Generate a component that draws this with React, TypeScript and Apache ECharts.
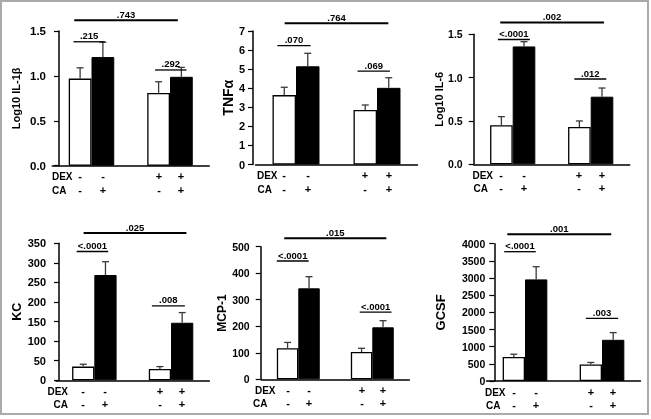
import React, { useEffect, useRef } from 'react';
import * as echarts from 'echarts';

const FONT = 'Arial, "Liberation Sans", Helvetica, sans-serif';

// ---- data ----
const groups = ['DEX -', 'DEX +'];
const dexSigns = ['-', '-', '+', '+'];
const caSigns = ['-', '+', '-', '+'];
const rowTitles = ['DEX', 'CA'];

const axisTitles = ['Log10 IL-1β', 'TNFα', 'Log10 IL-6', 'KC', 'MCP-1', 'GCSF'];

const il1bVehicle = [0.97, 0.81];
const il1bCA = [1.21, 0.99];
const il1bVehicleSem = [0.12, 0.125];
const il1bCASem = [0.165, 0.105];
const il1bP = ['.743', '.215', '.292'];
const il1bPY = [1.62, 1.38, 1.066];
const il1bPSpan = [[0, -0.22, 1, 0.10], [0, -0.23, 0, 0.17], [1, -0.19, 1, 0.21]];

const tnfVehicle = [3.64, 2.86];
const tnfCA = [5.15, 4.02];
const tnfVehicleSem = [0.41, 0.26];
const tnfCASem = [0.68, 0.53];
const tnfP = ['.764', '.070', '.069'];
const tnfPY = [7.4, 6.23, 4.9];
const tnfPSpan = [[0, -0.14, 1, 0.14], [0, -0.23, 0, 0.18], [1, -0.24, 1, 0.16]];

const il6Vehicle = [0.45, 0.43];
const il6CA = [1.36, 0.78];
const il6VehicleSem = [0.1, 0.07];
const il6CASem = [0.055, 0.1];
const il6P = ['.002', '<.0001', '.012'];
const il6PY = [1.635, 1.44, 0.984];
const il6PSpan = [[0, -0.16, 1, 0.17], [0, -0.19, 0, 0.22], [1, -0.21, 1, 0.2]];

const kcVehicle = [35, 29];
const kcCA = [269, 147];
const kcVehicleSem = [6, 6];
const kcCASem = [34, 26];
const kcP = ['.025', '<.0001', '.008'];
const kcPY = [376, 329, 190];
const kcPSpan = [[0, -0.14, 1, 0.2], [0, -0.23, 0, 0.18], [1, -0.25, 1, 0.18]];

const mcpVehicle = [117, 103];
const mcpCA = [343, 196];
const mcpVehicleSem = [22, 14];
const mcpCASem = [44, 25];
const mcpP = ['.015', '<.0001', '<.0001'];
const mcpPY = [532, 446, 253];
const mcpPSpan = [[0, -0.19, 1, 0.19], [0, -0.29, 0, 0.14], [1, -0.17, 1, 0.26]];

const gcsfVehicle = [700, 480];
const gcsfCA = [2960, 1200];
const gcsfVehicleSem = [80, 60];
const gcsfCASem = [370, 210];
const gcsfP = ['.001', '<.0001', '.003'];
const gcsfPY = [4273, 3767, 1826];
const gcsfPSpan = [[0, -0.23, 1, 0.12], [0, -0.27, 0, 0.14], [1, -0.21, 1, 0.21]];

const yMax = [1.5, 7, 1.5, 350, 500, 4000];
const yInterval = [0.5, 1, 0.5, 50, 100, 500];
const yDecimals = [1, 0, 1, 0, 0, 0];

const panels = [
  { v: il1bVehicle, c: il1bCA, vs: il1bVehicleSem, cs: il1bCASem, p: il1bP, py: il1bPY, ps: il1bPSpan },
  { v: tnfVehicle, c: tnfCA, vs: tnfVehicleSem, cs: tnfCASem, p: tnfP, py: tnfPY, ps: tnfPSpan },
  { v: il6Vehicle, c: il6CA, vs: il6VehicleSem, cs: il6CASem, p: il6P, py: il6PY, ps: il6PSpan },
  { v: kcVehicle, c: kcCA, vs: kcVehicleSem, cs: kcCASem, p: kcP, py: kcPY, ps: kcPSpan },
  { v: mcpVehicle, c: mcpCA, vs: mcpVehicleSem, cs: mcpCASem, p: mcpP, py: mcpPY, ps: mcpPSpan },
  { v: gcsfVehicle, c: gcsfCA, vs: gcsfVehicleSem, cs: gcsfCASem, p: gcsfP, py: gcsfPY, ps: gcsfPSpan },
];

// ---- layout ----
const layouts = [
  { left: 52.25, top: 31, width: 157, height: 134.7, yOffset: -6.75, labelMargin: 13, tickFont: 11.5, nameFont: 11, nameGap: 38, dexGap: 7.5, caGap: 13.5 },
  { left: 255.5, top: 31, width: 162, height: 133.5, yOffset: 2.5, labelMargin: 8, tickFont: 11, nameFont: 14, nameGap: 18, dexGap: 6.5, caGap: 12 },
  { left: 473.7, top: 34.3, width: 156, height: 130, yOffset: 0, labelMargin: 11, tickFont: 10.5, nameFont: 11, nameGap: 29, dexGap: 8, caGap: 13 },
  { left: 56, top: 243.3, width: 153.4, height: 137, yOffset: -3, labelMargin: 13, tickFont: 11, nameFont: 12.5, nameGap: 21, dexGap: 15, caGap: 15 },
  { left: 261.3, top: 246.7, width: 148, height: 132.6, yOffset: 0.6, labelMargin: 11, tickFont: 10.5, nameFont: 12, nameGap: 31, dexGap: 12.5, caGap: 20.5 },
  { left: 486.5, top: 243.7, width: 154, height: 137.3, yOffset: -7.8, labelMargin: 9, tickFont: 10.5, nameFont: 13, nameGap: 47, dexGap: 8.5, caGap: 13.5 },
];

const BAR_FRAC = 0.29;
const CAP = 3.5;

function buildOption() {
  const series: any[] = [];
  panels.forEach((p, i) => {
    const lay = layouts[i];
    series.push({
      type: 'bar', xAxisIndex: i, yAxisIndex: i, data: p.v,
      barWidth: BAR_FRAC * 100 + '%', barGap: '0%',
      itemStyle: { color: '#fff', borderColor: '#000', borderWidth: 1.3 },
    });
    series.push({
      type: 'bar', xAxisIndex: i, yAxisIndex: i, data: p.c,
      barWidth: BAR_FRAC * 100 + '%', barGap: '0%',
      itemStyle: { color: '#000', borderColor: '#000', borderWidth: 1 },
    });
    // error bars
    const errData: number[][] = [];
    p.v.forEach((val, k) => errData.push([k, val, p.vs[k], -1]));
    p.c.forEach((val, k) => errData.push([k, val, p.cs[k], 1]));
    series.push({
      type: 'custom', xAxisIndex: i, yAxisIndex: i, clip: false, z: 3,
      itemStyle: { color: '#000' },
      encode: { x: 0, y: 1 },
      data: errData,
      renderItem: (params: any, api: any) => {
        const cat = api.value(0), val = api.value(1), e = api.value(2), side = api.value(3);
        const band = api.size([1, 0])[0];
        const b = api.coord([cat, val]);
        const t = api.coord([cat, val + e]);
        const x = b[0] + side * band * BAR_FRAC / 2;
        const st = { stroke: '#3a3a3a', lineWidth: 1.3 };
        return {
          type: 'group', children: [
            { type: 'line', shape: { x1: x, y1: b[1], x2: x, y2: t[1] }, style: st },
            { type: 'line', shape: { x1: x - CAP, y1: t[1], x2: x + CAP, y2: t[1] }, style: st },
          ],
        };
      },
    });
    // significance brackets
    const brData = p.ps.map((s, k) => [s[0], s[1], s[2], s[3], p.py[k]]);
    series.push({
      type: 'custom', xAxisIndex: i, yAxisIndex: i, clip: false, z: 4,
      itemStyle: { color: '#000' },
      encode: { x: 0, y: 4 },
      data: brData,
      renderItem: (params: any, api: any) => {
        const k = params.dataIndex;
        const band = api.size([1, 0])[0];
        const yv = api.value(4);
        const a = api.coord([api.value(0), yv]);
        const b = api.coord([api.value(2), yv]);
        const x1 = a[0] + api.value(1) * band;
        const x2 = b[0] + api.value(3) * band;
        return {
          type: 'group', children: [
            { type: 'line', shape: { x1, y1: a[1], x2, y2: a[1] }, style: { stroke: '#000', lineWidth: k === 0 ? 2 : 1.3 } },
            {
              type: 'text', x: (x1 + x2) / 2, y: a[1] - 1,
              style: { text: p.p[k], fill: '#000', fontSize: 9.5, fontWeight: 'bold', fontFamily: FONT, align: 'center', verticalAlign: 'bottom' },
            },
          ],
        };
      },
    });
    // DEX / CA sign rows
    const signData = [[0, -1, 0], [0, 1, 0], [1, -1, 0], [1, 1, 0]];
    series.push({
      type: 'custom', xAxisIndex: i, yAxisIndex: i, clip: false, z: 4,
      itemStyle: { color: '#000' },
      encode: { x: 0, y: 2 },
      data: signData,
      renderItem: (params: any, api: any) => {
        const k = params.dataIndex;
        const band = api.size([1, 0])[0];
        const o = api.coord([api.value(0), 0]);
        const x = Math.round(o[0] + api.value(1) * band * BAR_FRAC / 2);
        const ts = (text: string, tx: number, ty: number, align: string, size: number) => ({
          type: 'text', x: tx, y: Math.round(ty),
          style: { text, fill: '#000', fontSize: size, fontWeight: 'bold', fontFamily: FONT, align, verticalAlign: 'middle' },
        });
        const children: any[] = [
          ts(dexSigns[k], x, o[1] + 10.5, 'center', 11),
          ts(caSigns[k], x, o[1] + 24, 'center', 11),
        ];
        if (k === 0) {
          children.push(ts(rowTitles[0], x - lay.dexGap, o[1] + 10.5, 'right', 10));
          children.push(ts(rowTitles[1], x - lay.caGap, o[1] + 24, 'right', 10));
        }
        return { type: 'group', children };
      },
    });
  });

  return {
    animation: false,
    backgroundColor: 'transparent',
    textStyle: { fontFamily: FONT },
    grid: layouts.map((l) => ({ left: l.left, top: l.top, width: l.width, height: l.height })),
    xAxis: panels.map((_, i) => ({
      type: 'category', gridIndex: i, data: groups,
      axisLine: { show: true, lineStyle: { color: '#000', width: 1.5 } },
      axisTick: { show: false }, axisLabel: { show: false }, splitLine: { show: false },
    })),
    yAxis: panels.map((_, i) => ({
      type: 'value', gridIndex: i, min: 0, max: yMax[i], interval: yInterval[i],
      offset: layouts[i].yOffset,
      name: axisTitles[i], nameLocation: 'middle', nameGap: layouts[i].nameGap,
      nameTextStyle: { color: '#000', fontSize: layouts[i].nameFont, fontWeight: 'bold', fontFamily: FONT },
      axisLine: { show: true, lineStyle: { color: '#000', width: 1.5 } },
      axisTick: { show: true, length: 5, lineStyle: { color: '#000', width: 1.2 } },
      axisLabel: {
        color: '#000', fontSize: layouts[i].tickFont, fontWeight: 'bold', fontFamily: FONT,
        margin: layouts[i].labelMargin,
        formatter: (v: number) => v.toFixed(yDecimals[i]),
      },
      splitLine: { show: false },
    })),
    series,
    graphic: [
      {
        type: 'rect', z: 100, silent: true,
        shape: { x: 1, y: 1, width: 647, height: 413 },
        style: { fill: 'none', stroke: '#aaaaaa', lineWidth: 2 },
      },
    ],
  };
}

export default function App() {
  const ref = useRef<HTMLDivElement>(null);
  useEffect(() => {
    const chart = echarts.init(ref.current!, undefined, { renderer: 'svg' });
    chart.setOption(buildOption() as any);
    return () => chart.dispose();
  }, []);
  return (
    <div style={{ position: 'fixed', left: 0, top: 0, width: 651, height: 419, background: '#fff' }}>
      <div ref={ref} style={{ width: 651, height: 419, willChange: 'transform' }} />
    </div>
  );
}
